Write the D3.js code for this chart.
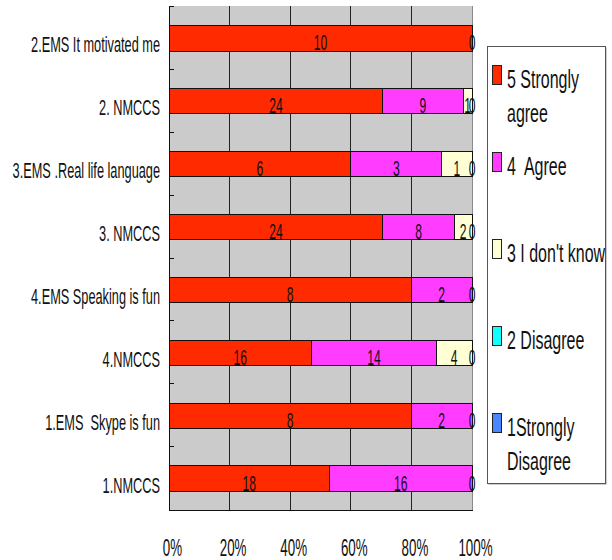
<!DOCTYPE html>
<html><head><meta charset="utf-8">
<script src="https://cdn.jsdelivr.net/npm/d3@7"></script>
<style>body{margin:0;background:#fff}svg{display:block}text{font-family:"Liberation Sans",Arial,sans-serif;white-space:pre}</style>
</head><body>
<svg id="c" width="612" height="560"></svg>
<script>
const categories = ["2.EMS It motivated me","2. NMCCS","3.EMS .Real life language","3. NMCCS","4.EMS Speaking is fun","4.NMCCS","1.EMS  Skype is fun","1.NMCCS"];
const seriesNames = ["5 Strongly agree","4  Agree","3 I don't know","2 Disagree","1Strongly Disagree"];
const legendLines = [["5 Strongly","agree"],["4  Agree"],["3 I don't know"],["2 Disagree"],["1Strongly","Disagree"]];
const stronglyAgree = [10,24,6,24,8,16,8,18];
const agree = [0,9,3,8,2,14,2,16];
const dontKnow = [0,1,1,2,0,4,0,0];
const disagree = [0,0,0,0,0,0,0,0];
const stronglyDisagree = [0,0,0,0,0,0,0,0];
const tickValues = [0,0.2,0.4,0.6,0.8,1];
const colors = ["#ff2a00","#ff3cff","#ffffd6","#10ffff","#4a86ff"];

const series = [stronglyAgree,agree,dontKnow,disagree,stronglyDisagree];
const rows = categories.map((c,i)=>{
  const o={cat:c}; series.forEach((s,k)=>o["s"+k]=s[i]); return o;
});
const keys = series.map((s,k)=>"s"+k);
const stacked = d3.stack().keys(keys).offset(d3.stackOffsetExpand)(rows);

const svg = d3.select("#c");
const L=169, R=472, T=6, B=510;
const x = d3.scaleLinear().domain([0,1]).range([L,R]);
const y = d3.scaleBand().domain(categories).range([T+1,B]).paddingInner(0.6).paddingOuter(0.3);

svg.append("rect").attr("x",L).attr("y",T).attr("width",R-L).attr("height",B-T).attr("fill","#cbcbcb");
svg.append("g").selectAll("line").data(tickValues.slice(1,-1)).join("line")
  .attr("x1",d=>x(d)).attr("x2",d=>x(d)).attr("y1",T).attr("y2",B)
  .attr("stroke","#222").attr("stroke-width",1).attr("shape-rendering","crispEdges");
svg.append("line").attr("x1",R).attr("x2",R).attr("y1",T).attr("y2",B).attr("stroke","#8a8a8a").attr("shape-rendering","crispEdges");

const gBars = svg.append("g");
stacked.forEach((layer,k)=>{
  gBars.append("g").selectAll("rect").data(layer.filter(d=>d[1]-d[0]>0)).join("rect")
    .attr("x",d=>x(d[0])).attr("width",d=>x(d[1])-x(d[0]))
    .attr("y",d=>y(d.data.cat)).attr("height",y.bandwidth())
    .attr("fill",colors[k]).attr("stroke","#111").attr("stroke-width",1)
    .attr("shape-rendering","crispEdges");
});
// value labels: non-zero segments, plus one zero label at the bar end (zero segments coincide there)
stacked.forEach((layer,k)=>{
  const last = k===stacked.length-1;
  gBars.append("g").selectAll("text").data(layer.filter(d=>d.data["s"+k]>0 || last)).join("text")
    .attr("transform",d=>`translate(${x((d[0]+d[1])/2)},${y(d.data.cat)+y.bandwidth()/2+12}) scale(0.55,1)`)
    .attr("text-anchor","middle").attr("font-size",22).attr("fill","#111")
    .text(d=>d.data["s"+k]);
});

svg.append("line").attr("x1",L).attr("x2",L).attr("y1",T).attr("y2",B).attr("stroke","#111").attr("shape-rendering","crispEdges");
svg.append("line").attr("x1",L).attr("x2",R+1).attr("y1",B).attr("y2",B).attr("stroke","#111").attr("shape-rendering","crispEdges");
const bounds = d3.range(categories.length).map(i=>y(categories[i])-y.step()*0.3-0.5);
svg.append("g").selectAll("line").data(bounds).join("line")
  .attr("x1",L).attr("x2",L+5).attr("y1",d=>d).attr("y2",d=>d)
  .attr("stroke","#111").attr("shape-rendering","crispEdges");

svg.append("g").selectAll("text").data(categories).join("text")
  .attr("transform",d=>`translate(160,${y(d)+y.bandwidth()/2+14}) scale(0.58,1)`)
  .attr("text-anchor","end").attr("font-size",22).attr("fill","#111").text(d=>d);

svg.append("g").selectAll("text").data(tickValues).join("text")
  .attr("transform",d=>`translate(${x(d)+3.5},556) scale(0.58,1)`)
  .attr("text-anchor","middle").attr("font-size",23).attr("fill","#111")
  .text(d=>d3.format(".0%")(d));

const LX=487, LY=46, LW=118, LH=437;
svg.append("defs").append("clipPath").attr("id","lc").append("rect").attr("x",LX).attr("y",LY).attr("width",LW).attr("height",LH);
svg.append("rect").attr("x",LX+1.5).attr("y",LY+1.5).attr("width",LW).attr("height",LH).attr("fill","#9a9a9a");
svg.append("rect").attr("x",LX+0.5).attr("y",LY+0.5).attr("width",LW).attr("height",LH).attr("fill","#fff").attr("stroke","#555");
const lg = svg.append("g").attr("clip-path","url(#lc)");
const swatchCenters = [75,162,249,336,423];
seriesNames.forEach((n,k)=>{
  const cy = swatchCenters[k];
  lg.append("rect").attr("x",492.5).attr("y",cy-9.5).attr("width",9).attr("height",19)
    .attr("fill",colors[k]).attr("stroke","#222");
  legendLines[k].forEach((t,j)=>{
    lg.append("text").attr("transform",`translate(507,${cy+13+j*34}) scale(0.64,1)`)
      .attr("font-size",25).attr("fill","#111").text(t);
  });
});
</script>
</body></html>
